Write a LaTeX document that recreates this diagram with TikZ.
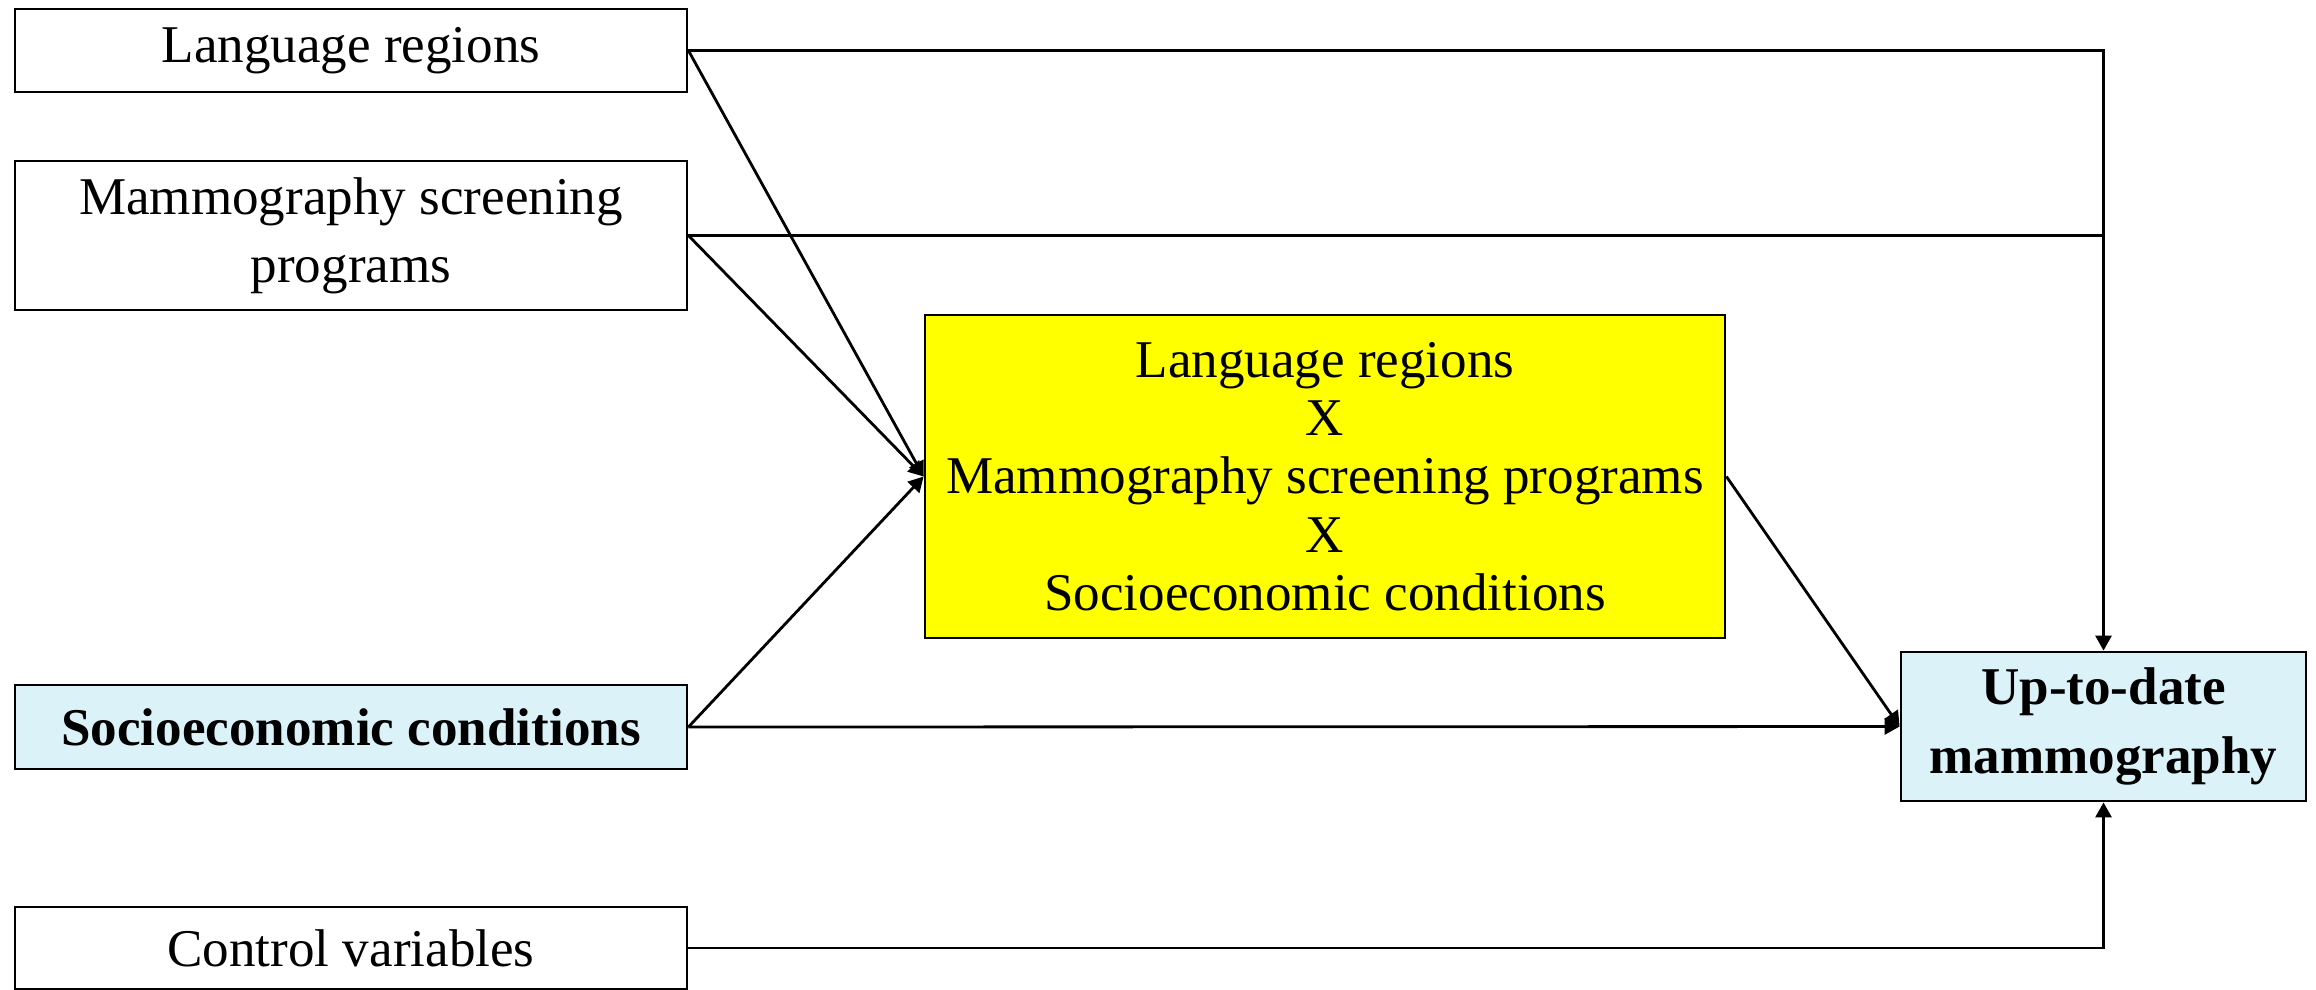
\documentclass[tikz,border=0pt]{standalone}
\usepackage{fontspec}
\setmainfont{Liberation Serif}
\usepackage{xcolor}
\usetikzlibrary{arrows.meta}
\definecolor{paleblue}{HTML}{DAF2F8}
\definecolor{hiyellow}{HTML}{FFFF00}

\tikzset{
  varbox/.style={draw=black,line width=0.8pt,fill=white,minimum width=6.72cm,minimum height=0.83cm,inner sep=0pt,align=center,font=\fontsize{15.1pt}{16.6pt}\selectfont},
  keybox/.style={varbox,fill=paleblue,font=\fontsize{15.1pt}{16.6pt}\selectfont\bfseries},
  wide/.style={font=\fontsize{15.1pt}{19.4pt}\selectfont},
  widebold/.style={font=\fontsize{15.1pt}{19.4pt}\selectfont\bfseries},
  arr/.style={line width=0.8pt,-{Triangle[length=0.15cm,width=0.16cm]}},
  ln/.style={line width=0.8pt}
}

\begin{document}
\begin{tikzpicture}
        \useasboundingbox (0,0) rectangle (23.16,-9.89);
        % left column
        \node[varbox] (lang) at (3.51,-0.505) {Language regions};
        \node[varbox,wide,minimum height=1.49cm] (mammo) at (3.51,-2.355) {Mammography screening\\programs};
        \node[keybox,minimum height=0.84cm] (socio) at (3.51,-7.27) {Socioeconomic conditions};
        \node[varbox,minimum height=0.82cm] (ctrl) at (3.51,-9.48) {Control variables};
        % interaction and outcome
        \node[varbox,fill=hiyellow,minimum width=8cm,minimum height=3.23cm] (inter) at (13.25,-4.765)
             {Language regions\\X\\Mammography screening programs\\X\\Socioeconomic conditions};
        \node[keybox,widebold,minimum width=4.05cm,minimum height=1.49cm] (out) at (21.035,-7.265) {Up-to-date\\mammography};
        % connectors
        \draw[arr] (lang.east) -| (out.north);
        \draw[ln] (mammo.east) -- (mammo.east -| out.north);
        \draw[arr] (lang.east) -- (inter.west);
        \draw[arr] (mammo.east) -- (inter.west);
        \draw[arr] (socio.east) -- (inter.west);
        \draw[arr] (socio.east) -- (out.west);
        \draw[arr] (inter.east) -- (out.west);
        \draw[arr] (ctrl.east) -| (out.south);
      \end{tikzpicture}
\end{document}
